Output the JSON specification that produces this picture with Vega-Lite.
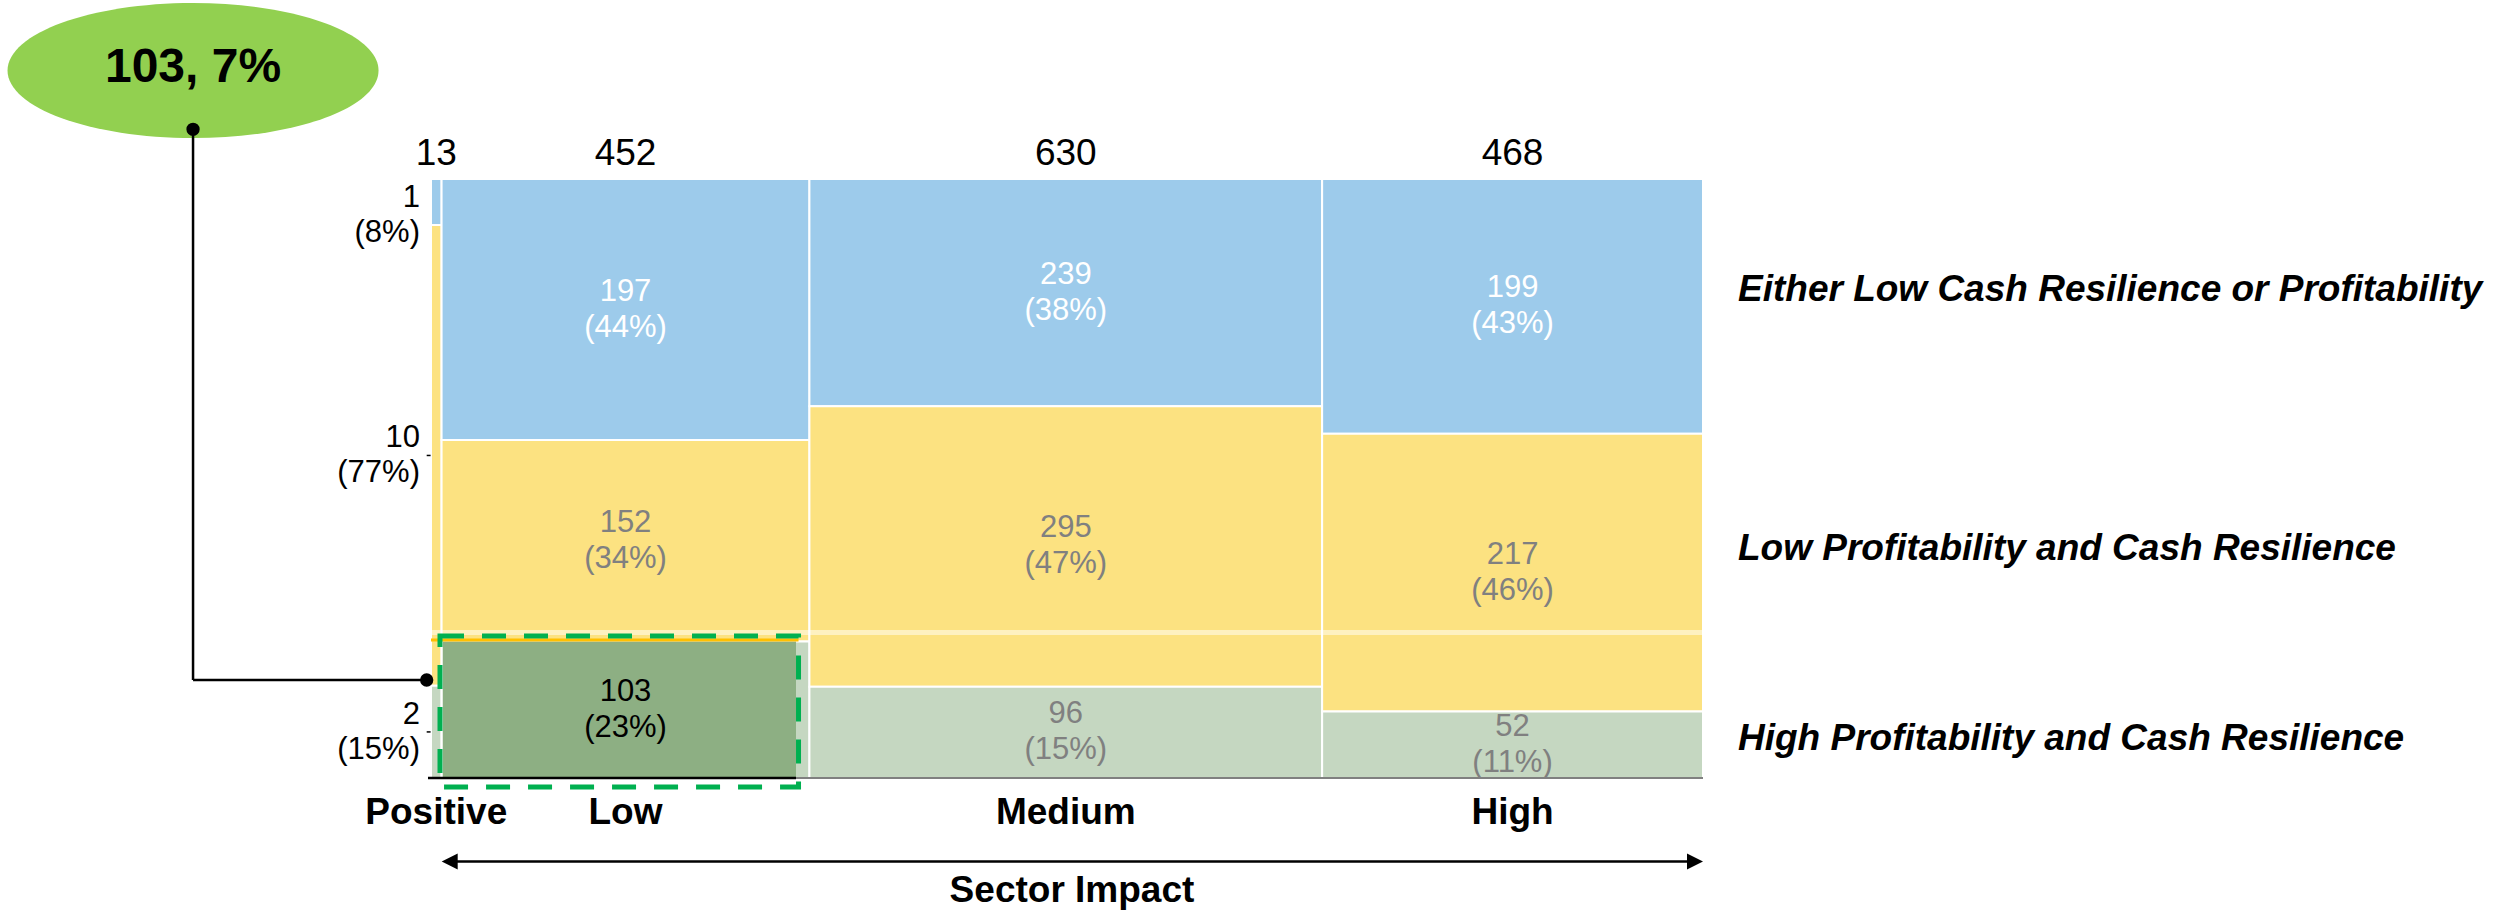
{
  "$schema": "https://vega.github.io/schema/vega-lite/v6.json",
  "width": 1272,
  "height": 599,
  "autosize": {"type": "none"},
  "padding": {"left": 431, "top": 179, "right": 806, "bottom": 135},
  "background": "white",
  "config": {"view": {"stroke": null}, "text": {"font": "Liberation Sans"}},
  "datasets": {
    "cells": [
      {"sector": "Positive", "sIdx": 0, "category": "Either Low Cash Resilience or Profitability", "cIdx": 2, "n": 1},
      {"sector": "Positive", "sIdx": 0, "category": "Low Profitability and Cash Resilience", "cIdx": 1, "n": 10},
      {"sector": "Positive", "sIdx": 0, "category": "High Profitability and Cash Resilience", "cIdx": 0, "n": 2},
      {"sector": "Low", "sIdx": 1, "category": "Either Low Cash Resilience or Profitability", "cIdx": 2, "n": 197},
      {"sector": "Low", "sIdx": 1, "category": "Low Profitability and Cash Resilience", "cIdx": 1, "n": 152},
      {"sector": "Low", "sIdx": 1, "category": "High Profitability and Cash Resilience", "cIdx": 0, "n": 103},
      {"sector": "Medium", "sIdx": 2, "category": "Either Low Cash Resilience or Profitability", "cIdx": 2, "n": 239},
      {"sector": "Medium", "sIdx": 2, "category": "Low Profitability and Cash Resilience", "cIdx": 1, "n": 295},
      {"sector": "Medium", "sIdx": 2, "category": "High Profitability and Cash Resilience", "cIdx": 0, "n": 96},
      {"sector": "High", "sIdx": 3, "category": "Either Low Cash Resilience or Profitability", "cIdx": 2, "n": 199},
      {"sector": "High", "sIdx": 3, "category": "Low Profitability and Cash Resilience", "cIdx": 1, "n": 217},
      {"sector": "High", "sIdx": 3, "category": "High Profitability and Cash Resilience", "cIdx": 0, "n": 52}
    ]
  },
  "layer": [
    {
      "data": {"name": "cells"},
      "transform": [
        {"joinaggregate": [{"op": "sum", "field": "n", "as": "colTotal"}], "groupby": ["sector"]},
        {"stack": "n", "groupby": [], "sort": [{"field": "sIdx", "order": "ascending"}, {"field": "cIdx", "order": "ascending"}], "as": ["sx0", "sx1"]},
        {"joinaggregate": [{"op": "min", "field": "sx0", "as": "x0"}, {"op": "max", "field": "sx1", "as": "x1"}], "groupby": ["sector"]},
        {"stack": "n", "groupby": ["sector"], "sort": [{"field": "cIdx", "order": "ascending"}], "offset": "normalize", "as": ["y0", "y1"]}
      ],
      "mark": {"type": "rect", "stroke": "white", "strokeWidth": 2},
      "encoding": {
        "x": {"field": "x0", "type": "quantitative", "scale": {"domain": [0, 1563], "nice": false, "zero": false}, "axis": null},
        "x2": {"field": "x1"},
        "y": {"field": "y0", "type": "quantitative", "scale": {"domain": [0, 1], "nice": false, "zero": false}, "axis": null},
        "y2": {"field": "y1"},
        "color": {
          "field": "category", "type": "nominal",
          "scale": {"domain": ["Either Low Cash Resilience or Profitability", "Low Profitability and Cash Resilience", "High Profitability and Cash Resilience"], "range": ["#9DCBEB", "#FCE281", "#C5D7C1"]},
          "legend": null
        }
      }
    },
    {
      "data": {"values": [{}]},
      "mark": {"type": "rect", "fill": "#8DAF83"},
      "encoding": {
        "x": {"datum": 14.7, "type": "quantitative", "scale": {"domain": [0, 1563], "nice": false, "zero": false}, "axis": null},
        "x2": {"datum": 448.5},
        "y": {"datum": 0, "type": "quantitative", "scale": {"domain": [0, 1], "nice": false, "zero": false}, "axis": null},
        "y2": {"datum": 0.2279}
      }
    },
    {
      "data": {"values": [{}]},
      "mark": {"type": "rule", "stroke": "white", "strokeOpacity": 0.5, "strokeWidth": 5},
      "encoding": {
        "x": {"datum": 0, "type": "quantitative", "scale": {"domain": [0, 1563], "nice": false, "zero": false}, "axis": null},
        "x2": {"datum": 1563},
        "y": {"datum": 0.2429, "type": "quantitative", "scale": {"domain": [0, 1], "nice": false, "zero": false}, "axis": null}
      }
    },
    {
      "data": {"values": [{}]},
      "mark": {"type": "rule", "stroke": "#FFC000", "strokeWidth": 3},
      "encoding": {
        "x": {"datum": 0, "type": "quantitative", "scale": {"domain": [0, 1563], "nice": false, "zero": false}, "axis": null},
        "x2": {"datum": 451.6},
        "y": {"datum": 0.2304, "type": "quantitative", "scale": {"domain": [0, 1], "nice": false, "zero": false}, "axis": null}
      }
    },
    {
      "data": {"values": [{}]},
      "mark": {"type": "rule", "stroke": "#808080", "strokeWidth": 2},
      "encoding": {
        "x": {"datum": 0, "type": "quantitative", "scale": {"domain": [0, 1563], "nice": false, "zero": false}, "axis": null},
        "x2": {"datum": 1563},
        "y": {"datum": 0, "type": "quantitative", "scale": {"domain": [0, 1], "nice": false, "zero": false}, "axis": null}
      }
    },
    {
      "data": {"values": [{}]},
      "mark": {"type": "rule", "stroke": "black", "strokeWidth": 2.5},
      "encoding": {
        "x": {"datum": -3.7, "type": "quantitative", "scale": {"domain": [0, 1563], "nice": false, "zero": false}, "axis": null},
        "x2": {"datum": 448.5},
        "y": {"datum": 0, "type": "quantitative", "scale": {"domain": [0, 1], "nice": false, "zero": false}, "axis": null}
      }
    },
    {
      "data": {"values": [{}]},
      "mark": {"type": "rect", "fill": "transparent", "stroke": "#00B050", "strokeWidth": 5, "strokeDash": [24, 18]},
      "encoding": {
        "x": {"datum": 11.06, "type": "quantitative", "scale": {"domain": [0, 1563], "nice": false, "zero": false}, "axis": null},
        "x2": {"datum": 451.6},
        "y": {"datum": -0.015, "type": "quantitative", "scale": {"domain": [0, 1], "nice": false, "zero": false}, "axis": null},
        "y2": {"datum": 0.2371}
      }
    },
    {
      "data": {"name": "cells"},
      "transform": [
        {"joinaggregate": [{"op": "sum", "field": "n", "as": "colTotal"}], "groupby": ["sector"]},
        {"stack": "n", "groupby": [], "sort": [{"field": "sIdx", "order": "ascending"}, {"field": "cIdx", "order": "ascending"}], "as": ["sx0", "sx1"]},
        {"joinaggregate": [{"op": "min", "field": "sx0", "as": "x0"}, {"op": "max", "field": "sx1", "as": "x1"}], "groupby": ["sector"]},
        {"stack": "n", "groupby": ["sector"], "sort": [{"field": "cIdx", "order": "ascending"}], "offset": "normalize", "as": ["y0", "y1"]},
        {"calculate": "(datum.x0 + datum.x1) / 2", "as": "xm"},
        {"calculate": "(datum.y0 + datum.y1) / 2", "as": "ym"},
        {"calculate": "datum.n + '\\n(' + format(datum.n / datum.colTotal, '.0%') + ')'", "as": "label"}
      ],
      "layer": [
        {
          "transform": [{"filter": "datum.sector != 'Positive'"}],
          "mark": {"type": "text", "fontSize": 31, "lineHeight": 36, "lineBreak": "\n", "align": "center", "baseline": "middle", "dy": -18},
          "encoding": {
            "x": {"field": "xm", "type": "quantitative", "scale": {"domain": [0, 1563], "nice": false, "zero": false}, "axis": null},
            "y": {"field": "ym", "type": "quantitative", "scale": {"domain": [0, 1], "nice": false, "zero": false}, "axis": null},
            "text": {"field": "label"},
            "color": {
              "condition": [
                {"test": "datum.cIdx == 2", "value": "white"},
                {"test": "datum.sector == 'Low' && datum.cIdx == 0", "value": "black"}
              ],
              "value": "#808080"
            }
          }
        },
        {
          "transform": [{"filter": "datum.sector == 'Positive'"}, {"calculate": "min(datum.ym, 0.94)", "as": "ly"}],
          "mark": {"type": "text", "fontSize": 31, "lineHeight": 35, "lineBreak": "\n", "align": "right", "baseline": "middle", "dx": -11, "dy": -17, "color": "black"},
          "encoding": {
            "x": {"field": "x0", "type": "quantitative", "scale": {"domain": [0, 1563], "nice": false, "zero": false}, "axis": null},
            "y": {"field": "ly", "type": "quantitative", "scale": {"domain": [0, 1], "nice": false, "zero": false}, "axis": null},
            "text": {"field": "label"}
          }
        },
        {
          "transform": [{"filter": "datum.sector == 'Positive' && datum.cIdx < 2"}],
          "mark": {"type": "rule", "stroke": "black", "strokeWidth": 1.5},
          "encoding": {
            "x": {"datum": -5.3, "type": "quantitative", "scale": {"domain": [0, 1563], "nice": false, "zero": false}, "axis": null},
            "x2": {"datum": -0.5},
            "y": {"field": "ym", "type": "quantitative", "scale": {"domain": [0, 1], "nice": false, "zero": false}, "axis": null}
          }
        },
        {
          "transform": [{"filter": "datum.cIdx == 2"}],
          "mark": {"type": "text", "fontSize": 37, "align": "center", "baseline": "alphabetic", "dy": -14, "color": "black"},
          "encoding": {
            "x": {"field": "xm", "type": "quantitative", "scale": {"domain": [0, 1563], "nice": false, "zero": false}, "axis": null},
            "y": {"datum": 1, "type": "quantitative", "scale": {"domain": [0, 1], "nice": false, "zero": false}, "axis": null},
            "text": {"field": "colTotal"}
          }
        },
        {
          "transform": [{"filter": "datum.cIdx == 2"}],
          "mark": {"type": "text", "fontSize": 37, "fontWeight": "bold", "align": "center", "baseline": "alphabetic", "dy": 46, "color": "black"},
          "encoding": {
            "x": {"field": "xm", "type": "quantitative", "scale": {"domain": [0, 1563], "nice": false, "zero": false}, "axis": null},
            "y": {"datum": 0, "type": "quantitative", "scale": {"domain": [0, 1], "nice": false, "zero": false}, "axis": null},
            "text": {"field": "sector"}
          }
        }
      ]
    },
    {
      "data": {"values": [{}]},
      "mark": {"type": "rule", "stroke": "black", "strokeWidth": 2.5},
      "encoding": {
        "x": {"datum": 20, "type": "quantitative", "scale": {"domain": [0, 1563], "nice": false, "zero": false}, "axis": null},
        "x2": {"datum": 1555},
        "y": {"datum": -0.1394, "type": "quantitative", "scale": {"domain": [0, 1], "nice": false, "zero": false}, "axis": null}
      }
    },
    {
      "data": {"values": [{}]},
      "mark": {"type": "point", "shape": "M1,-1L-1,0L1,1Z", "filled": true, "color": "black", "opacity": 1, "size": 256, "strokeWidth": 0},
      "encoding": {
        "x": {"datum": 23.0, "type": "quantitative", "scale": {"domain": [0, 1563], "nice": false, "zero": false}, "axis": null},
        "y": {"datum": -0.1394, "type": "quantitative", "scale": {"domain": [0, 1], "nice": false, "zero": false}, "axis": null}
      }
    },
    {
      "data": {"values": [{}]},
      "mark": {"type": "point", "shape": "M-1,-1L1,0L-1,1Z", "filled": true, "color": "black", "opacity": 1, "size": 256, "strokeWidth": 0},
      "encoding": {
        "x": {"datum": 1553.2, "type": "quantitative", "scale": {"domain": [0, 1563], "nice": false, "zero": false}, "axis": null},
        "y": {"datum": -0.1394, "type": "quantitative", "scale": {"domain": [0, 1], "nice": false, "zero": false}, "axis": null}
      }
    },
    {
      "data": {"values": [{}]},
      "mark": {"type": "text", "fontSize": 37, "fontWeight": "bold", "align": "center", "baseline": "middle", "color": "black"},
      "encoding": {
        "x": {"datum": 787.6, "type": "quantitative", "scale": {"domain": [0, 1563], "nice": false, "zero": false}, "axis": null},
        "y": {"datum": -0.1886, "type": "quantitative", "scale": {"domain": [0, 1], "nice": false, "zero": false}, "axis": null},
        "text": {"value": "Sector Impact"}
      }
    },
    {
      "data": {"values": [{}]},
      "mark": {"type": "text", "fontSize": 37, "fontWeight": "bold", "fontStyle": "italic", "align": "left", "baseline": "middle", "dx": 35, "color": "black"},
      "encoding": {
        "x": {"datum": 1563, "type": "quantitative", "scale": {"domain": [0, 1563], "nice": false, "zero": false}, "axis": null},
        "y": {"datum": 0.8154, "type": "quantitative", "scale": {"domain": [0, 1], "nice": false, "zero": false}, "axis": null},
        "text": {"value": "Either Low Cash Resilience or Profitability"}
      }
    },
    {
      "data": {"values": [{}]},
      "mark": {"type": "text", "fontSize": 37, "fontWeight": "bold", "fontStyle": "italic", "align": "left", "baseline": "middle", "dx": 35, "color": "black"},
      "encoding": {
        "x": {"datum": 1563, "type": "quantitative", "scale": {"domain": [0, 1563], "nice": false, "zero": false}, "axis": null},
        "y": {"datum": 0.3826, "type": "quantitative", "scale": {"domain": [0, 1], "nice": false, "zero": false}, "axis": null},
        "text": {"value": "Low Profitability and Cash Resilience"}
      }
    },
    {
      "data": {"values": [{}]},
      "mark": {"type": "text", "fontSize": 37, "fontWeight": "bold", "fontStyle": "italic", "align": "left", "baseline": "middle", "dx": 35, "color": "black"},
      "encoding": {
        "x": {"datum": 1563, "type": "quantitative", "scale": {"domain": [0, 1563], "nice": false, "zero": false}, "axis": null},
        "y": {"datum": 0.0651, "type": "quantitative", "scale": {"domain": [0, 1], "nice": false, "zero": false}, "axis": null},
        "text": {"value": "High Profitability and Cash Resilience"}
      }
    },
    {
      "data": {"values": [{}]},
      "mark": {"type": "point", "shape": "M-1,0C-1,-0.201 -0.552,-0.364 0,-0.364C0.552,-0.364 1,-0.201 1,0C1,0.201 0.552,0.364 0,0.364C-0.552,0.364 -1,0.201 -1,0Z", "filled": true, "color": "#92D050", "opacity": 1, "size": 137641, "strokeWidth": 0},
      "encoding": {
        "x": {"datum": -292.4, "type": "quantitative", "scale": {"domain": [0, 1563], "nice": false, "zero": false}, "axis": null},
        "y": {"datum": 1.1811, "type": "quantitative", "scale": {"domain": [0, 1], "nice": false, "zero": false}, "axis": null}
      }
    },
    {
      "data": {"values": [{}]},
      "mark": {"type": "text", "fontSize": 48, "fontWeight": "bold", "align": "center", "baseline": "middle", "color": "black"},
      "encoding": {
        "x": {"datum": -292.4, "type": "quantitative", "scale": {"domain": [0, 1563], "nice": false, "zero": false}, "axis": null},
        "y": {"datum": 1.186, "type": "quantitative", "scale": {"domain": [0, 1], "nice": false, "zero": false}, "axis": null},
        "text": {"value": "103, 7%"}
      }
    },
    {
      "data": {"values": [{}]},
      "mark": {"type": "rule", "stroke": "black", "strokeWidth": 2.5},
      "encoding": {
        "x": {"datum": -292.4, "type": "quantitative", "scale": {"domain": [0, 1563], "nice": false, "zero": false}, "axis": null},
        "y": {"datum": 1.083, "type": "quantitative", "scale": {"domain": [0, 1], "nice": false, "zero": false}, "axis": null},
        "y2": {"datum": 0.1636}
      }
    },
    {
      "data": {"values": [{}]},
      "mark": {"type": "rule", "stroke": "black", "strokeWidth": 2.5},
      "encoding": {
        "x": {"datum": -292.4, "type": "quantitative", "scale": {"domain": [0, 1563], "nice": false, "zero": false}, "axis": null},
        "x2": {"datum": -5.3},
        "y": {"datum": 0.1636, "type": "quantitative", "scale": {"domain": [0, 1], "nice": false, "zero": false}, "axis": null}
      }
    },
    {
      "data": {"values": [{"px": -292.4, "py": 1.083}, {"px": -5.3, "py": 0.1636}]},
      "mark": {"type": "point", "shape": "circle", "filled": true, "color": "black", "opacity": 1, "size": 177, "strokeWidth": 0},
      "encoding": {
        "x": {"field": "px", "type": "quantitative", "scale": {"domain": [0, 1563], "nice": false, "zero": false}, "axis": null},
        "y": {"field": "py", "type": "quantitative", "scale": {"domain": [0, 1], "nice": false, "zero": false}, "axis": null}
      }
    }
  ]
}
